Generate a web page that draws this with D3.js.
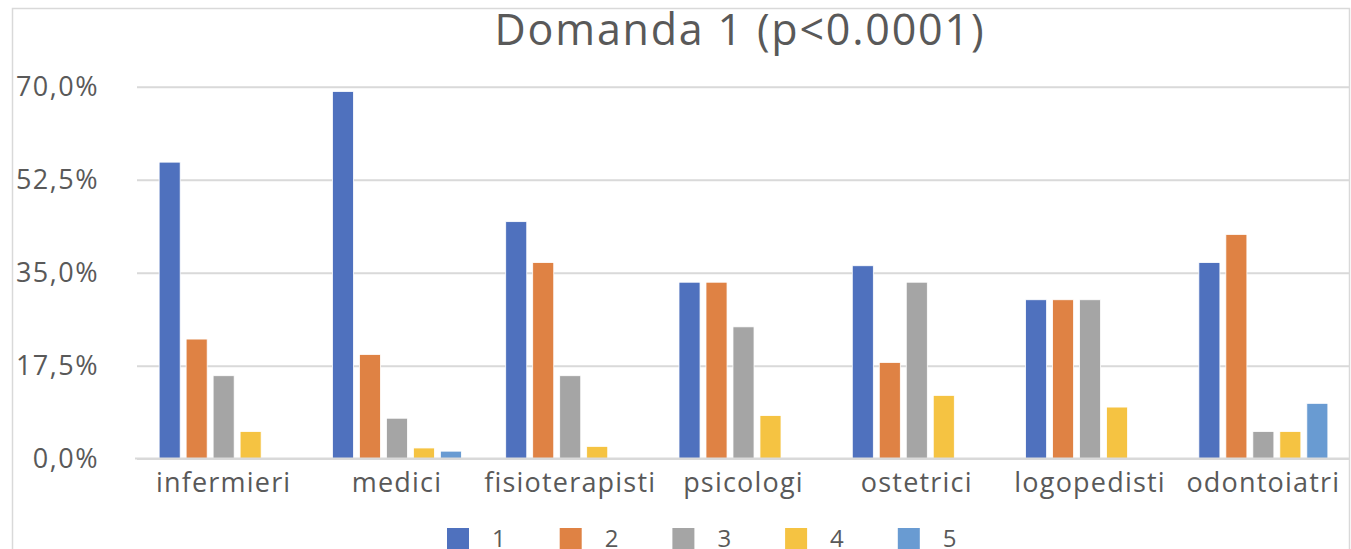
<!DOCTYPE html>
<html>
<head>
  <meta charset="utf-8">
  <title>Domanda 1</title>
  <script src="https://d3js.org/d3.v7.min.js"></script>
  <style>
    body { margin: 0; background: #fff; }
    text { font-family: "Open Sans", sans-serif; fill: #595959; }
  </style>
</head>
<body>
  <svg id="chart" width="1351" height="549"></svg>

  <script>
    // dati
    var categorie = ["infermieri", "medici", "fisioterapisti", "psicologi", "ostetrici", "logopedisti", "odontoiatri"];
    var serie = ["1", "2", "3", "4", "5"];
    var s1 = [55.8, 69.1, 44.6, 33.2, 36.3, 29.9, 36.9];
    var s2 = [22.5, 19.6, 36.9, 33.2, 18.1, 29.9, 42.2];
    var s3 = [15.6, 7.6, 15.6, 24.8, 33.2, 29.9, 5.1];
    var s4 = [5.1, 2.0, 2.3, 8.1, 11.9, 9.7, 5.1];
    var s5 = [0, 1.4, 0, 0, 0, 0, 10.4];
    var yTicks = [0, 17.5, 35, 52.5, 70];
    var colori = ["#4f71be", "#df8244", "#a5a5a5", "#f5c342", "#699bd2"];

    var valori = [s1, s2, s3, s4, s5];
    var data = [];
    categorie.forEach(function(c, i) {
      serie.forEach(function(s, j) {
        data.push({ cat: c, ser: s, val: valori[j][i] });
      });
    });

    var svg = d3.select("#chart");

    // cornice esterna
    svg.append("path")
      .attr("d", "M12.5,549 V8.5 H1349.5 V549")
      .attr("fill", "none")
      .attr("stroke", "#d9d9d9")
      .attr("stroke-width", 1.5);

    var pLeft = 137, pRight = 1350, pTop = 86.7, pBottom = 458.6;

    var x0 = d3.scaleBand().domain(categorie).range([pLeft, pRight]);
    var x1 = d3.scaleBand().domain(serie).range([0, x0.bandwidth()])
      .paddingInner(0.22).paddingOuter(0.82);
    var y = d3.scaleLinear().domain([0, 70]).range([pBottom, pTop]);
    var color = d3.scaleOrdinal().domain(serie).range(colori);

    // asse y con griglia
    var yAxis = svg.append("g")
      .attr("transform", "translate(" + pLeft + ",0)")
      .call(d3.axisLeft(y)
        .tickValues(yTicks)
        .tickSize(-(pRight - pLeft))
        .tickPadding(38)
        .tickFormat(function(d) { return d.toFixed(1).replace(".", ",") + "%"; }));
    yAxis.select(".domain").remove();
    yAxis.selectAll("line").attr("stroke", "#d9d9d9").attr("stroke-width", 2);
    yAxis.selectAll("text").style("font-size", "27px").style("letter-spacing", "1.5px")
      .attr("fill", "#595959");

    // barre
    svg.append("g").selectAll("rect")
      .data(data)
      .enter().append("rect")
        .attr("x", function(d) { return x0(d.cat) + x1(d.ser); })
        .attr("width", x1.bandwidth())
        .attr("y", function(d) { return y(d.val); })
        .attr("height", function(d) { return y(0) - y(d.val); })
        .attr("fill", function(d) { return color(d.ser); })
        .attr("stroke", "#fff")
        .attr("stroke-width", 0.8)
        .style("display", function(d) { return d.val > 0 ? null : "none"; });

    // asse x
    var xAxis = svg.append("g")
      .attr("transform", "translate(0," + pBottom + ")")
      .call(d3.axisBottom(x0).tickSize(0).tickPadding(14));
    xAxis.select(".domain").attr("stroke", "#d9d9d9").attr("stroke-width", 2)
      .attr("d", "M" + (pLeft - 2) + ",0H" + pRight);
    xAxis.selectAll("text").style("font-size", "27px").style("letter-spacing", "1.2px")
      .attr("fill", "#595959");

    // titolo
    svg.append("text")
      .attr("x", 740)
      .attr("y", 45)
      .attr("text-anchor", "middle")
      .style("font-size", "43px")
      .style("letter-spacing", "1.8px")
      .text("Domanda 1 (p<0.0001)");

    // legenda
    var lx = d3.scaleBand().domain(serie).range([447, 447 + 5 * 112.7]);
    var leg = svg.append("g").selectAll("g")
      .data(serie)
      .enter().append("g")
        .attr("transform", function(d) { return "translate(" + lx(d) + ",528)"; });
    leg.append("rect")
      .attr("width", 22)
      .attr("height", 22)
      .attr("fill", function(d) { return color(d); });
    leg.append("text")
      .attr("x", 45)
      .attr("y", 19)
      .style("font-size", "24px")
      .text(function(d) { return d; });
  </script>
</body>
</html>
